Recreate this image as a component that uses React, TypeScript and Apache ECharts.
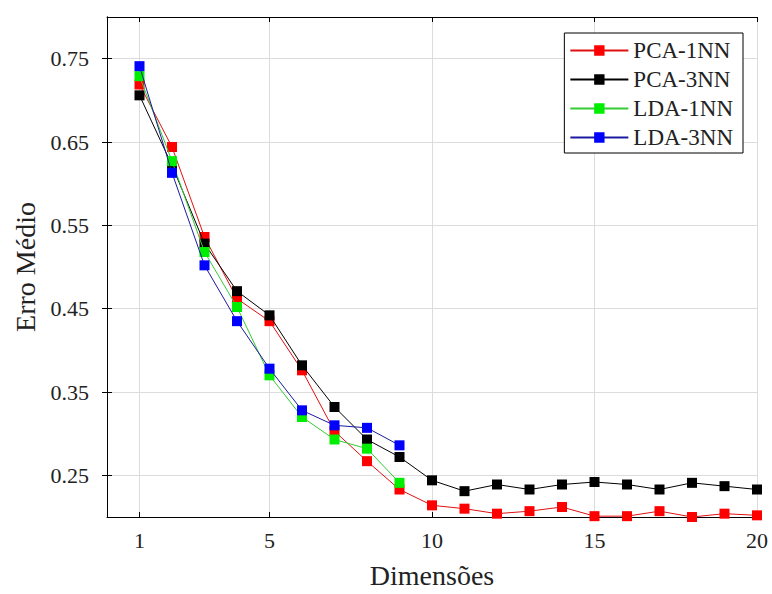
import React, { useEffect, useRef } from "react";
import * as echarts from "echarts";

const dims = [1, 2, 3, 4, 5, 6, 7, 8, 9, 10, 11, 12, 13, 14, 15, 16, 17, 18, 19, 20];
const pca1nn = [0.719, 0.644, 0.536, 0.462, 0.435, 0.376, 0.303, 0.267, 0.233, 0.214, 0.210, 0.204, 0.207, 0.212, 0.201, 0.201, 0.207, 0.200, 0.204, 0.202];
const pca3nn = [0.706, 0.622, 0.528, 0.471, 0.442, 0.382, 0.332, 0.293, 0.272, 0.244, 0.231, 0.239, 0.233, 0.239, 0.242, 0.239, 0.233, 0.241, 0.237, 0.233];
const lda1nn = [0.729, 0.627, 0.518, 0.452, 0.370, 0.320, 0.293, 0.282, 0.241];
const lda3nn = [0.741, 0.613, 0.502, 0.435, 0.378, 0.328, 0.310, 0.307, 0.286];
const xTicks = [1, 5, 10, 15, 20];
const yTicks = [0.25, 0.35, 0.45, 0.55, 0.65, 0.75];
const seriesNames = ["PCA-1NN", "PCA-3NN", "LDA-1NN", "LDA-3NN"];
const seriesColors = ["#ff0000", "#000000", "#00ee00", "#0000ff"];
const lineColors = ["#e01010", "#000000", "#33cc33", "#1a1aa0"];

const FONT = "Liberation Serif";
const TXT = "#222222";

export default function App() {
  const ref = useRef<HTMLDivElement>(null);
  useEffect(() => {
    const chart = echarts.init(ref.current!, null, { renderer: "svg" });
    const allData = [pca1nn, pca3nn, lda1nn, lda3nn];
    const series = allData.map((vals, i) => ({
      name: seriesNames[i],
      type: "line",
      data: vals.map((v, j) => [dims[j], v]),
      symbol: "rect",
      symbolSize: 10,
      lineStyle: { color: lineColors[i], width: 1 },
      itemStyle: { color: seriesColors[i] },
      emphasis: { disabled: true },
      z: 2 + i,
    }));
    const axisLine = { show: true, lineStyle: { color: "#000", width: 1 } };
    const tick = (vals: number[]) => ({ show: true, inside: true, length: 5, customValues: vals, lineStyle: { color: "#000" } });
    chart.setOption({
      animation: false,
      backgroundColor: "#fff",
      grid: { left: 107, right: 15, top: 17, bottom: 72, containLabel: false },
      legend: {
        orient: "vertical",
        right: 29,
        top: 33,
        itemWidth: 58,
        itemHeight: 13,
        itemGap: 6,
        padding: [6, 10, 4, 5],
        borderColor: "#000",
        borderWidth: 1,
        backgroundColor: "#fff",
        textStyle: { fontFamily: FONT, fontSize: 23, color: TXT },
        data: seriesNames,
      },
      xAxis: [
        {
          type: "value",
          min: 0,
          max: 20,
          name: "Dimensões",
          nameLocation: "middle",
          nameGap: 44,
          nameTextStyle: { fontFamily: FONT, fontSize: 28, color: TXT },
          axisLine,
          axisTick: tick(xTicks),
          axisLabel: { customValues: xTicks, fontFamily: FONT, fontSize: 22, color: TXT, margin: 12 },
          splitLine: { show: true, lineStyle: { color: "#dcdcdc", width: 1 } },
        },
        {
          type: "value",
          position: "top",
          min: 0,
          max: 20,
          axisLine,
          axisTick: tick(xTicks),
          axisLabel: { show: false },
          splitLine: { show: false },
        },
      ],
      yAxis: [
        {
          type: "value",
          min: 0.2,
          max: 0.8,
          name: "Erro Médio",
          nameLocation: "middle",
          nameGap: 68,
          nameTextStyle: { fontFamily: FONT, fontSize: 28, color: TXT },
          axisLine,
          axisTick: tick(yTicks),
          axisLabel: {
            customValues: yTicks,
            fontFamily: FONT,
            fontSize: 22,
            color: TXT,
            margin: 18,
            formatter: (v: number) => v.toFixed(2),
          },
          splitLine: { show: true, lineStyle: { color: "#dcdcdc", width: 1 } },
        },
        {
          type: "value",
          position: "right",
          min: 0.2,
          max: 0.8,
          axisLine,
          axisTick: tick(yTicks),
          axisLabel: { show: false },
          splitLine: { show: false },
        },
      ],
      series,
    });
    return () => chart.dispose();
  }, []);
  return <div ref={ref} style={{ position: "fixed", left: 0, top: 0, width: 772, height: 594 }} />;
}
